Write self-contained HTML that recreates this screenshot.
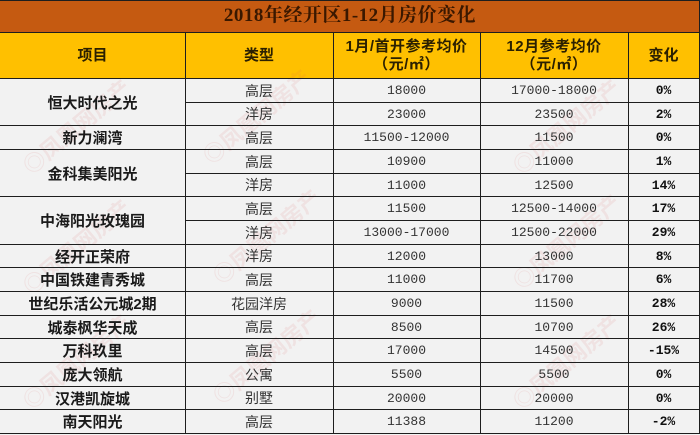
<!DOCTYPE html>
<html><head><meta charset="utf-8">
<style>
*{margin:0;padding:0;box-sizing:border-box}
html,body{width:700px;height:435px;overflow:hidden;background:#f2f2f2}
#w{position:relative;width:700px;height:435px;background:#f2f2f2;font-family:"Liberation Sans","Noto Sans CJK SC",sans-serif}
.title{position:absolute;left:0;top:0;width:700px;height:32px;background:#c55a11}
.title span{position:absolute;left:0;top:0;width:700px;height:32px;line-height:32px;text-align:center;font-family:"Liberation Serif","Noto Serif CJK SC",serif;font-weight:bold;font-size:19px;color:#3a1800;letter-spacing:0.5px}
.hdr{position:absolute;left:0;top:32px;width:700px;height:46px;background:#ffc000}
.h{position:absolute;height:1px;background:#1e1e1e}
.v{position:absolute;width:1px;background:#1e1e1e}
.c{position:absolute;display:flex;align-items:center;justify-content:center;text-align:center;white-space:nowrap}
.hd{font-family:"Liberation Sans","Noto Sans CJK SC",sans-serif;font-weight:bold;font-size:15px;color:#2b2000;line-height:18px}
.p{font-family:"Liberation Sans","Noto Sans CJK SC",sans-serif;font-weight:bold;font-size:15px;color:#1a1a1a}
.t{font-family:"Liberation Sans","Noto Sans CJK SC",sans-serif;font-size:14px;color:#333}
.n{font-family:"Liberation Mono",monospace;font-size:13px;color:#333}
.pc{font-family:"Liberation Mono",monospace;font-size:13px;font-weight:bold;color:#111}
.wm{position:absolute;font-family:"Noto Sans CJK SC",sans-serif;font-size:22px;color:rgba(215,90,90,0.10);transform:rotate(-40deg);white-space:nowrap;font-weight:bold}
</style></head><body><div id="w">
<div class="title"><span>2018年经开区1-12月房价变化</span></div>
<div class="hdr"></div>

<!-- watermarks -->
<div class="wm" style="left:10px;top:110px">◎凤凰网房产</div>
<div class="wm" style="left:190px;top:100px">◎凤凰网房产</div>
<div class="wm" style="left:500px;top:110px">◎凤凰网房产</div>
<div class="wm" style="left:10px;top:230px">◎凤凰网房产</div>
<div class="wm" style="left:200px;top:220px">◎凤凰网房产</div>
<div class="wm" style="left:500px;top:225px">◎凤凰网房产</div>
<div class="wm" style="left:10px;top:345px">◎凤凰网房产</div>
<div class="wm" style="left:200px;top:340px">◎凤凰网房产</div>
<div class="wm" style="left:500px;top:345px">◎凤凰网房产</div>

<!-- horizontal lines -->
<div class="h" style="left:0;top:0;width:700px"></div>
<div class="h" style="left:0;top:32px;width:700px"></div>
<div class="h" style="left:0;top:78px;width:700px"></div>
<div class="h" style="left:185px;top:102px;width:515px"></div>
<div class="h" style="left:0;top:125px;width:700px"></div>
<div class="h" style="left:0;top:149px;width:700px"></div>
<div class="h" style="left:185px;top:173px;width:515px"></div>
<div class="h" style="left:0;top:196px;width:700px"></div>
<div class="h" style="left:185px;top:220px;width:515px"></div>
<div class="h" style="left:0;top:244px;width:700px"></div>
<div class="h" style="left:0;top:267px;width:700px"></div>
<div class="h" style="left:0;top:291px;width:700px"></div>
<div class="h" style="left:0;top:315px;width:700px"></div>
<div class="h" style="left:0;top:338px;width:700px"></div>
<div class="h" style="left:0;top:362px;width:700px"></div>
<div class="h" style="left:0;top:386px;width:700px"></div>
<div class="h" style="left:0;top:409px;width:700px"></div>
<div class="h" style="left:0;top:433px;width:700px"></div>

<!-- vertical lines -->
<div class="v" style="left:185px;top:32px;height:402px"></div>
<div class="v" style="left:333px;top:32px;height:402px"></div>
<div class="v" style="left:480px;top:32px;height:402px"></div>
<div class="v" style="left:628px;top:32px;height:402px"></div>
<div class="v" style="left:699px;top:0;height:434px"></div>

<!-- header text -->
<div class="c hd" style="left:0;top:33px;width:185px;height:45px">项目</div>
<div class="c hd" style="left:185px;top:33px;width:148px;height:45px">类型</div>
<div class="c hd" style="left:333px;top:36px;width:147px;height:40px;flex-direction:column;letter-spacing:0.5px">1月/首开参考均价<br>（元/㎡）</div>
<div class="c hd" style="left:480px;top:36px;width:148px;height:40px;flex-direction:column;letter-spacing:0.5px">12月参考均价<br>（元/㎡）</div>
<div class="c hd" style="left:628px;top:33px;width:71px;height:45px">变化</div>

<!-- project names -->
<div class="c p" style="left:0;top:79px;width:185px;height:46px">恒大时代之光</div>
<div class="c p" style="left:0;top:126px;width:185px;height:23px">新力澜湾</div>
<div class="c p" style="left:0;top:150px;width:185px;height:46px">金科集美阳光</div>
<div class="c p" style="left:0;top:197px;width:185px;height:47px">中海阳光玫瑰园</div>
<div class="c p" style="left:0;top:245px;width:185px;height:22px">经开正荣府</div>
<div class="c p" style="left:0;top:268px;width:185px;height:23px">中国铁建青秀城</div>
<div class="c p" style="left:0;top:292px;width:185px;height:23px">世纪乐活公元城2期</div>
<div class="c p" style="left:0;top:316px;width:185px;height:22px">城泰枫华天成</div>
<div class="c p" style="left:0;top:339px;width:185px;height:23px">万科玖里</div>
<div class="c p" style="left:0;top:363px;width:185px;height:23px">庞大领航</div>
<div class="c p" style="left:0;top:387px;width:185px;height:22px">汉港凯旋城</div>
<div class="c p" style="left:0;top:410px;width:185px;height:23px">南天阳光</div>

<!-- rows -->
<div class="c t" style="left:185px;top:79px;width:148px;height:23px">高层</div>
<div class="c n" style="left:333px;top:79px;width:147px;height:23px">18000</div>
<div class="c n" style="left:480px;top:79px;width:148px;height:23px">17000-18000</div>
<div class="c pc" style="left:628px;top:79px;width:71px;height:23px">0%</div>

<div class="c t" style="left:185px;top:103px;width:148px;height:22px">洋房</div>
<div class="c n" style="left:333px;top:103px;width:147px;height:22px">23000</div>
<div class="c n" style="left:480px;top:103px;width:148px;height:22px">23500</div>
<div class="c pc" style="left:628px;top:103px;width:71px;height:22px">2%</div>

<div class="c t" style="left:185px;top:126px;width:148px;height:23px">高层</div>
<div class="c n" style="left:333px;top:126px;width:147px;height:23px">11500-12000</div>
<div class="c n" style="left:480px;top:126px;width:148px;height:23px">11500</div>
<div class="c pc" style="left:628px;top:126px;width:71px;height:23px">0%</div>

<div class="c t" style="left:185px;top:150px;width:148px;height:23px">高层</div>
<div class="c n" style="left:333px;top:150px;width:147px;height:23px">10900</div>
<div class="c n" style="left:480px;top:150px;width:148px;height:23px">11000</div>
<div class="c pc" style="left:628px;top:150px;width:71px;height:23px">1%</div>

<div class="c t" style="left:185px;top:174px;width:148px;height:22px">洋房</div>
<div class="c n" style="left:333px;top:174px;width:147px;height:22px">11000</div>
<div class="c n" style="left:480px;top:174px;width:148px;height:22px">12500</div>
<div class="c pc" style="left:628px;top:174px;width:71px;height:22px">14%</div>

<div class="c t" style="left:185px;top:197px;width:148px;height:23px">高层</div>
<div class="c n" style="left:333px;top:197px;width:147px;height:23px">11500</div>
<div class="c n" style="left:480px;top:197px;width:148px;height:23px">12500-14000</div>
<div class="c pc" style="left:628px;top:197px;width:71px;height:23px">17%</div>

<div class="c t" style="left:185px;top:221px;width:148px;height:23px">洋房</div>
<div class="c n" style="left:333px;top:221px;width:147px;height:23px">13000-17000</div>
<div class="c n" style="left:480px;top:221px;width:148px;height:23px">12500-22000</div>
<div class="c pc" style="left:628px;top:221px;width:71px;height:23px">29%</div>

<div class="c t" style="left:185px;top:245px;width:148px;height:22px">洋房</div>
<div class="c n" style="left:333px;top:245px;width:147px;height:22px">12000</div>
<div class="c n" style="left:480px;top:245px;width:148px;height:22px">13000</div>
<div class="c pc" style="left:628px;top:245px;width:71px;height:22px">8%</div>

<div class="c t" style="left:185px;top:268px;width:148px;height:23px">高层</div>
<div class="c n" style="left:333px;top:268px;width:147px;height:23px">11000</div>
<div class="c n" style="left:480px;top:268px;width:148px;height:23px">11700</div>
<div class="c pc" style="left:628px;top:268px;width:71px;height:23px">6%</div>

<div class="c t" style="left:185px;top:292px;width:148px;height:23px">花园洋房</div>
<div class="c n" style="left:333px;top:292px;width:147px;height:23px">9000</div>
<div class="c n" style="left:480px;top:292px;width:148px;height:23px">11500</div>
<div class="c pc" style="left:628px;top:292px;width:71px;height:23px">28%</div>

<div class="c t" style="left:185px;top:316px;width:148px;height:22px">高层</div>
<div class="c n" style="left:333px;top:316px;width:147px;height:22px">8500</div>
<div class="c n" style="left:480px;top:316px;width:148px;height:22px">10700</div>
<div class="c pc" style="left:628px;top:316px;width:71px;height:22px">26%</div>

<div class="c t" style="left:185px;top:339px;width:148px;height:23px">高层</div>
<div class="c n" style="left:333px;top:339px;width:147px;height:23px">17000</div>
<div class="c n" style="left:480px;top:339px;width:148px;height:23px">14500</div>
<div class="c pc" style="left:628px;top:339px;width:71px;height:23px">-15%</div>

<div class="c t" style="left:185px;top:363px;width:148px;height:23px">公寓</div>
<div class="c n" style="left:333px;top:363px;width:147px;height:23px">5500</div>
<div class="c n" style="left:480px;top:363px;width:148px;height:23px">5500</div>
<div class="c pc" style="left:628px;top:363px;width:71px;height:23px">0%</div>

<div class="c t" style="left:185px;top:387px;width:148px;height:22px">别墅</div>
<div class="c n" style="left:333px;top:387px;width:147px;height:22px">20000</div>
<div class="c n" style="left:480px;top:387px;width:148px;height:22px">20000</div>
<div class="c pc" style="left:628px;top:387px;width:71px;height:22px">0%</div>

<div class="c t" style="left:185px;top:410px;width:148px;height:23px">高层</div>
<div class="c n" style="left:333px;top:410px;width:147px;height:23px">11388</div>
<div class="c n" style="left:480px;top:410px;width:148px;height:23px">11200</div>
<div class="c pc" style="left:628px;top:410px;width:71px;height:23px">-2%</div>
</div></body></html>
